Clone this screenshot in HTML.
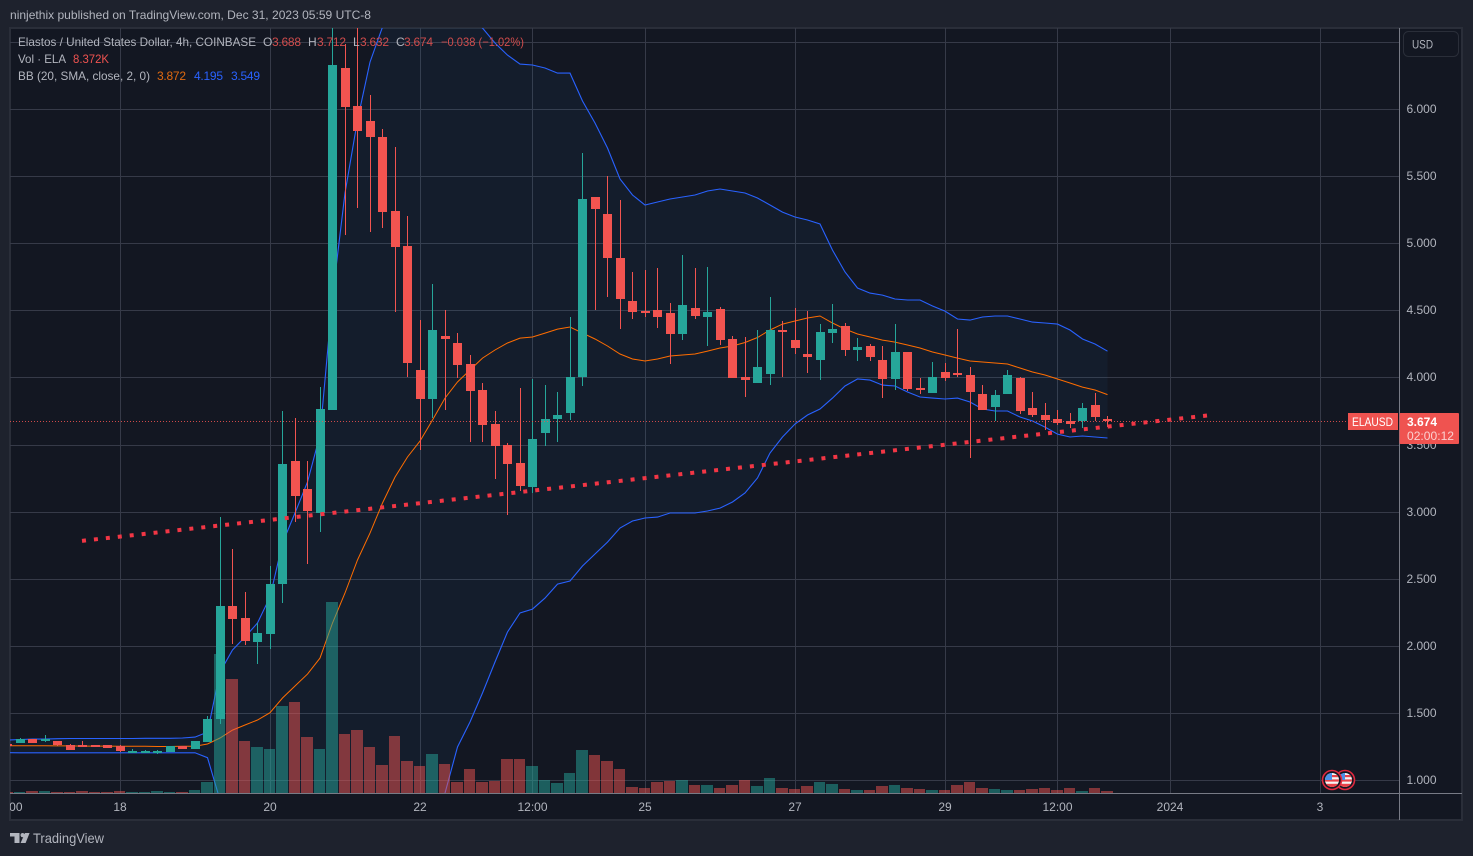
<!DOCTYPE html>
<html lang="en">
<head>
<meta charset="utf-8">
<title>ELAUSD 4h chart</title>
<style>
  html, body { margin: 0; padding: 0; background: #1e222d; }
  body { width: 1473px; height: 856px; overflow: hidden; }
  svg { display: block; }
  text { font-family: "Liberation Sans", sans-serif; font-size: 12px; fill: #b2b5be; }
</style>
</head>
<body>
<svg id="root" width="1473" height="856" viewBox="0 0 1473 856" xmlns="http://www.w3.org/2000/svg">
  <defs>
    <clipPath id="paneClip"><rect x="10" y="28" width="1389" height="765"/></clipPath>
    <clipPath id="timeClip"><rect x="10" y="794" width="1389" height="26"/></clipPath>
    <clipPath id="flagA"><circle cx="1345" cy="780" r="7"/></clipPath>
    <clipPath id="flagB"><circle cx="1332" cy="780" r="7"/></clipPath>
  </defs>

  <rect x="0" y="0" width="1473" height="856" fill="#1e222d"/>
  <text x="10" y="19" textLength="361" lengthAdjust="spacingAndGlyphs">ninjethix published on TradingView.com, Dec 31, 2023 05:59 UTC-8</text>

  <rect x="10" y="28" width="1452" height="792" fill="#131722" stroke="#2a2e39" stroke-width="2"/>

  <g id="gridLayer" clip-path="url(#paneClip)"></g>
  <g id="bandLayer" clip-path="url(#paneClip)"></g>
  <g id="volumeLayer" clip-path="url(#paneClip)"></g>
  <g id="candleLayer" clip-path="url(#paneClip)"></g>
  <g id="overlayLayer" clip-path="url(#paneClip)"></g>

  <rect x="10" y="793" width="1452" height="1" fill="#787b86"/>
  <rect x="1399" y="28" width="1" height="792" fill="#787b86"/>
  <g id="timeAxis" clip-path="url(#timeClip)"></g>
  <g id="priceAxis"></g>

  <g>
    <rect x="1403.5" y="31.5" width="55" height="25" rx="5" fill="#131722" stroke="#2a2e39" stroke-width="1"/>
    <text x="1412" y="48.5" textLength="21" lengthAdjust="spacingAndGlyphs">USD</text>
  </g>

  <g>
    <text x="18" y="46" textLength="238" lengthAdjust="spacingAndGlyphs">Elastos / United States Dollar, 4h, COINBASE</text>
    <text x="263" y="46">O</text>
    <text x="272" y="46" textLength="29" style="fill:#d04c4c">3.688</text>
    <text x="308" y="46">H</text>
    <text x="317" y="46" textLength="29" style="fill:#d04c4c">3.712</text>
    <text x="353" y="46">L</text>
    <text x="360" y="46" textLength="29" style="fill:#d04c4c">3.632</text>
    <text x="396" y="46">C</text>
    <text x="404" y="46" textLength="29" style="fill:#d04c4c">3.674</text>
    <text x="441" y="46" textLength="83" lengthAdjust="spacingAndGlyphs" style="fill:#d04c4c">−0.038 (−1.02%)</text>
    <text x="18" y="63" textLength="48" lengthAdjust="spacingAndGlyphs">Vol · ELA</text>
    <text x="73" y="63" textLength="36" lengthAdjust="spacingAndGlyphs" style="fill:#ef5350">8.372K</text>
    <text x="18" y="80" textLength="132" lengthAdjust="spacingAndGlyphs">BB (20, SMA, close, 2, 0)</text>
    <text x="157" y="80" textLength="29" style="fill:#e06a10">3.872</text>
    <text x="194" y="80" textLength="29" style="fill:#2962ff">4.195</text>
    <text x="231" y="80" textLength="29" style="fill:#2962ff">3.549</text>
  </g>

  <g>
    <rect x="1348" y="413" width="50" height="17" fill="#ef5350"/>
    <text x="1352" y="426" textLength="41" lengthAdjust="spacingAndGlyphs" style="fill:#ffffff">ELAUSD</text>
    <rect x="1399.5" y="413" width="59.5" height="31" rx="1" fill="#ef5350"/>
    <text x="1407" y="426" textLength="30" style="fill:#ffffff;font-weight:bold" lengthAdjust="spacingAndGlyphs">3.674</text>
    <text x="1407" y="440" textLength="47" lengthAdjust="spacingAndGlyphs" style="fill:#fbd0cf">02:00:12</text>
  </g>

  <g>
    <g>
      <circle cx="1345" cy="780" r="9.5" fill="#131722" stroke="#e0283e" stroke-width="1.6"/>
      <g clip-path="url(#flagA)">
        <rect x="1338" y="773" width="14" height="14" fill="#f5f5f5"/>
        <rect x="1338" y="775" width="14" height="2.2" fill="#e8424a"/>
        <rect x="1338" y="779.4" width="14" height="2.2" fill="#e8424a"/>
        <rect x="1338" y="783.8" width="14" height="3.2" fill="#e8424a"/>
        <rect x="1338" y="773" width="7" height="7" fill="#4a90e8"/>
      </g>
    </g>
    <g>
      <circle cx="1332" cy="780" r="9.5" fill="#131722" stroke="#e0283e" stroke-width="1.6"/>
      <g clip-path="url(#flagB)">
        <rect x="1325" y="773" width="14" height="14" fill="#f5f5f5"/>
        <rect x="1325" y="775" width="14" height="2.2" fill="#e8424a"/>
        <rect x="1325" y="779.4" width="14" height="2.2" fill="#e8424a"/>
        <rect x="1325" y="783.8" width="14" height="3.2" fill="#e8424a"/>
        <rect x="1325" y="773" width="7" height="7" fill="#4a90e8"/>
      </g>
    </g>
  </g>

  <g>
    <path d="M10 833h9.5v10h-5v-6.5H10z" fill="#b2b5be"/>
    <circle cx="22.6" cy="835.1" r="2.1" fill="#b2b5be"/>
    <path d="M25 833h4.6l-4 10h-5z" fill="#b2b5be"/>
    <text x="33" y="843" textLength="71" lengthAdjust="spacingAndGlyphs" style="font-size:14px">TradingView</text>
  </g>
</svg>

<script>
// Chart data: one entry per 4h bar, oldest first (prices in USD, volume in thousands of ELA)
const opens = [1.270,1.280,1.307,1.293,1.293,1.261,1.261,1.261,1.261,1.258,1.210,1.210,1.213,1.210,1.255,1.233,1.285,1.456,2.298,2.208,2.030,2.089,2.462,3.377,3.169,2.990,3.757,6.304,6.021,5.909,5.790,5.239,4.978,4.055,3.839,4.308,4.256,4.100,3.906,3.653,3.497,3.362,3.184,3.586,3.690,3.735,4.003,5.343,5.217,4.889,4.569,4.494,4.502,4.479,4.323,4.517,4.450,4.509,4.286,4.003,3.958,4.025,4.353,4.278,4.174,4.129,4.330,4.383,4.204,4.234,4.129,3.988,4.189,3.921,3.884,4.040,4.033,4.018,3.876,3.779,3.876,3.995,3.772,3.720,3.690,3.675,3.675,3.794,3.688];
const highs = [1.275,1.315,1.311,1.337,1.296,1.270,1.293,1.263,1.263,1.261,1.233,1.222,1.228,1.255,1.255,1.293,1.476,2.960,2.722,2.402,2.169,2.596,3.750,3.698,3.377,3.928,7.000,6.482,7.000,6.103,5.849,5.715,5.202,4.427,4.695,4.502,4.330,4.167,3.958,3.750,3.511,3.921,3.988,3.943,3.891,4.450,5.671,5.343,5.500,5.321,4.785,4.800,4.814,4.554,4.911,4.814,4.822,4.524,4.308,4.301,4.353,4.599,4.420,4.517,4.494,4.397,4.546,4.405,4.293,4.249,4.234,4.397,4.189,3.995,4.115,4.107,4.360,4.077,3.943,3.906,4.055,4.003,3.891,3.809,3.757,3.735,3.809,3.884,3.712];
const lows = [1.255,1.278,1.278,1.287,1.259,1.226,1.250,1.250,1.240,1.208,1.207,1.207,1.198,1.210,1.233,1.233,1.285,1.421,2.015,2.007,1.866,1.978,2.320,2.925,2.613,2.849,3.757,5.060,5.261,5.083,5.112,4.487,4.003,3.459,3.698,3.757,3.995,3.519,3.519,3.243,2.975,3.154,3.139,3.489,3.519,3.683,3.936,4.502,4.599,4.360,4.435,4.450,4.368,4.100,4.278,4.435,4.234,4.241,3.995,3.854,3.958,3.943,4.003,4.174,4.033,3.980,4.256,4.159,4.122,4.122,3.846,3.906,3.899,3.876,3.884,3.973,4.003,3.400,3.757,3.675,3.876,3.727,3.705,3.608,3.645,3.623,3.623,3.675,3.632];
const closes = [1.255,1.305,1.280,1.307,1.261,1.226,1.250,1.250,1.240,1.218,1.218,1.218,1.218,1.255,1.233,1.293,1.456,2.298,2.201,2.039,2.097,2.462,3.355,3.117,3.005,3.765,6.326,6.013,5.835,5.790,5.231,4.971,4.107,3.839,4.353,4.286,4.092,3.899,3.645,3.489,3.355,3.191,3.541,3.690,3.720,4.003,5.328,5.254,4.889,4.584,4.487,4.487,4.450,4.323,4.539,4.457,4.487,4.278,3.995,3.980,4.077,4.353,4.338,4.219,4.152,4.338,4.360,4.204,4.226,4.152,3.988,4.189,3.914,3.914,4.003,3.995,4.018,3.891,3.757,3.869,4.018,3.750,3.720,3.683,3.660,3.653,3.772,3.705,3.674];
const volumes = [3.6,3.6,8,8,5,5,8,5,5,8,5,5,8,5,5,12,40,496,407,186,164,157,311,325,200,157,682,211,225,164,100,204,114,96,139,104,39,86,39,43,121,121,96,46,36,71,154,136,114,86,21,18,39,43,46,29,29,18,29,46,25,54,18,14,25,39,32,14,11,11,25,29,18,14,11,11,29,39,18,14,11,11,14,18,11,18,7,18,8.372];
const bbBasis = [1.258,1.258,1.257,1.257,1.256,1.256,1.255,1.255,1.255,1.254,1.253,1.253,1.252,1.252,1.253,1.254,1.270,1.315,1.374,1.412,1.449,1.503,1.613,1.702,1.791,1.910,2.171,2.395,2.640,2.841,3.065,3.258,3.407,3.526,3.683,3.846,3.966,4.055,4.144,4.204,4.256,4.293,4.301,4.330,4.360,4.375,4.330,4.286,4.234,4.174,4.137,4.122,4.137,4.159,4.167,4.174,4.196,4.219,4.234,4.260,4.297,4.353,4.397,4.420,4.442,4.457,4.405,4.360,4.323,4.301,4.278,4.263,4.241,4.219,4.189,4.167,4.144,4.122,4.115,4.107,4.100,4.070,4.040,4.018,3.988,3.958,3.928,3.906,3.872];
const bbUpper = [1.300,1.304,1.307,1.307,1.310,1.311,1.311,1.311,1.311,1.311,1.311,1.313,1.313,1.313,1.315,1.322,1.359,1.806,1.970,2.067,2.171,2.365,2.767,2.990,3.221,3.571,4.599,5.373,5.916,6.348,6.609,6.720,6.800,6.830,6.820,6.790,6.700,6.670,6.602,6.490,6.400,6.333,6.326,6.304,6.266,6.266,6.058,5.894,5.708,5.477,5.358,5.284,5.306,5.328,5.343,5.358,5.388,5.403,5.388,5.373,5.336,5.284,5.231,5.194,5.172,5.142,4.948,4.785,4.666,4.628,4.613,4.584,4.576,4.576,4.532,4.494,4.435,4.427,4.450,4.457,4.457,4.435,4.412,4.405,4.397,4.353,4.286,4.249,4.195];
const bbLower = [1.206,1.205,1.205,1.205,1.205,1.205,1.205,1.205,1.205,1.205,1.205,1.205,1.205,1.205,1.205,1.205,1.168,0.853,0.780,0.760,0.730,0.640,0.460,0.410,0.360,0.250,-0.260,-0.580,-0.640,-0.670,-0.480,-0.200,0.010,0.220,0.550,0.905,1.248,1.434,1.650,1.881,2.104,2.246,2.275,2.357,2.461,2.484,2.596,2.685,2.774,2.879,2.931,2.953,2.960,2.990,2.990,2.990,3.005,3.027,3.072,3.139,3.251,3.437,3.556,3.653,3.720,3.765,3.846,3.936,3.988,3.980,3.943,3.936,3.891,3.854,3.846,3.839,3.846,3.817,3.765,3.750,3.750,3.705,3.675,3.630,3.578,3.556,3.564,3.556,3.549];
const lastPrice = 3.674;
const trendBars = [5.96, 95.96];
const trendPrices = [2.783, 3.716];
const priceTicks = [1.0,1.5,2.0,2.5,3.0,3.5,4.0,4.5,5.0,5.5,6.0];
const gridPrices = [1.0,1.5,2.0,2.5,3.0,3.5,4.0,4.5,5.0,5.5,6.0,6.5];
const timeTickBars = [0,9,21,33,42,51,63,75,84,93,105];
const timeTickLabels = ["12:00","18","20","22","12:00","25","27","29","12:00","2024","3"];

// Axis functions
function xScale(i) { return 7.5 + 12.5 * i; }
function yScale(p) { return 780.3 - (p - 1) * 134.3; }
function volY(v) { return 793 - v * 0.28; }
// Keeps off-pane band vertices inside the page frame; the pane clip hides them anyway.
function bandY(p) { return Math.min(850, Math.max(0, yScale(p))); }

const NS = 'http://www.w3.org/2000/svg';
const GREEN = '#26a69a', RED = '#f25450';
function make(tag, attrs, parent) {
  const el = document.createElementNS(NS, tag);
  for (const k in attrs) el.setAttribute(k, attrs[k]);
  parent.appendChild(el);
  return el;
}
function linePoints(values) {
  return values.map((v, i) => xScale(i).toFixed(1) + ',' + bandY(v).toFixed(1)).join(' ');
}

// Grid
const gridLayer = document.getElementById('gridLayer');
gridPrices.forEach(p => {
  const gy = Math.round(yScale(p)) + 0.5;
  const el = make('line', { x1: 10, x2: 1399, y1: gy, y2: gy, stroke: '#363a48', 'stroke-width': 1 }, gridLayer);
  
  
});
timeTickBars.forEach(b => {
  const x = Math.floor(xScale(b)) + 0.5;
  const el = make('line', { x1: x, x2: x, y1: 28, y2: 793, stroke: '#363a48', 'stroke-width': 1 }, gridLayer);
  
  
});

// Bollinger bands
const bandLayer = document.getElementById('bandLayer');
const fillPts = linePoints(bbUpper) + ' ' + bbLower.map((v, i) => xScale(i).toFixed(1) + ',' + bandY(v).toFixed(1)).reverse().join(' ');
const bandFill = make('polygon', { points: fillPts, fill: 'rgba(33,150,243,0.05)', stroke: 'none' }, bandLayer);


const upperLine = make('polyline', { points: linePoints(bbUpper), fill: 'none', stroke: '#2962ff', 'stroke-width': 1.1 }, bandLayer);


const lowerLine = make('polyline', { points: linePoints(bbLower), fill: 'none', stroke: '#2962ff', 'stroke-width': 1.1 }, bandLayer);


const basisLine = make('polyline', { points: linePoints(bbBasis), fill: 'none', stroke: '#ff6d00', 'stroke-width': 1 }, bandLayer);



// Volume
const volumeLayer = document.getElementById('volumeLayer');
volumes.forEach((v, i) => {
  const left = Math.round(xScale(i) - 6.25);
  const right = Math.round(xScale(i) + 6.25) - 1;
  const top = Math.round(volY(v));
  const el = make('rect', { x: left, y: top, width: right - left, height: Math.max(1, 793 - top),
    fill: closes[i] >= opens[i] ? 'rgba(38,166,154,0.5)' : 'rgba(239,83,80,0.5)', 'shape-rendering': 'crispEdges' }, volumeLayer);
  
  
});

// Candles
const candleLayer = document.getElementById('candleLayer');
opens.forEach((o, i) => {
  const c = closes[i];
  const color = c >= o ? GREEN : RED;
  const x = Math.floor(xScale(i));
  const top = Math.round(yScale(Math.max(o, c)));
  const bottom = Math.round(yScale(Math.min(o, c)));
  const wickTop = Math.max(28, Math.round(yScale(highs[i])));
  const wickBottom = Math.round(yScale(lows[i]));
  const wick = make('rect', { x: x, y: wickTop, width: 1, height: Math.max(1, wickBottom - wickTop), fill: color, 'shape-rendering': 'crispEdges' }, candleLayer);
  
  
  const body = make('rect', { x: x - 4, y: top, width: 9, height: Math.max(2, bottom - top), fill: color, 'shape-rendering': 'crispEdges' }, candleLayer);
  
  
});

// Overlays: last-price line and dotted trendline
const overlayLayer = document.getElementById('overlayLayer');
const lastY = Math.floor(yScale(lastPrice)) + 0.5;
const lastLine = make('line', { x1: 10, x2: 1347, y1: lastY, y2: lastY, stroke: '#ef5350', 'stroke-width': 1, 'stroke-dasharray': '1 2', opacity: 0.85 }, overlayLayer);


const trend = make('line', { x1: xScale(trendBars[0]), y1: yScale(trendPrices[0]), x2: xScale(trendBars[1]), y2: yScale(trendPrices[1]),
  stroke: '#f23645', 'stroke-width': 4, 'stroke-dasharray': '4 8', opacity: 1 }, overlayLayer);



// Axis labels
const timeAxis = document.getElementById('timeAxis');
timeTickBars.forEach((b, i) => {
  const t = make('text', { x: xScale(b), y: 811, 'text-anchor': 'middle' }, timeAxis);
  t.textContent = timeTickLabels[i];
  
  
});
const priceAxis = document.getElementById('priceAxis');
priceTicks.forEach(p => {
  const t = make('text', { x: 1406.5, y: Math.round(yScale(p)) + 4 }, priceAxis);
  t.textContent = p.toFixed(3);
  
  
});
</script>
</body>
</html>
